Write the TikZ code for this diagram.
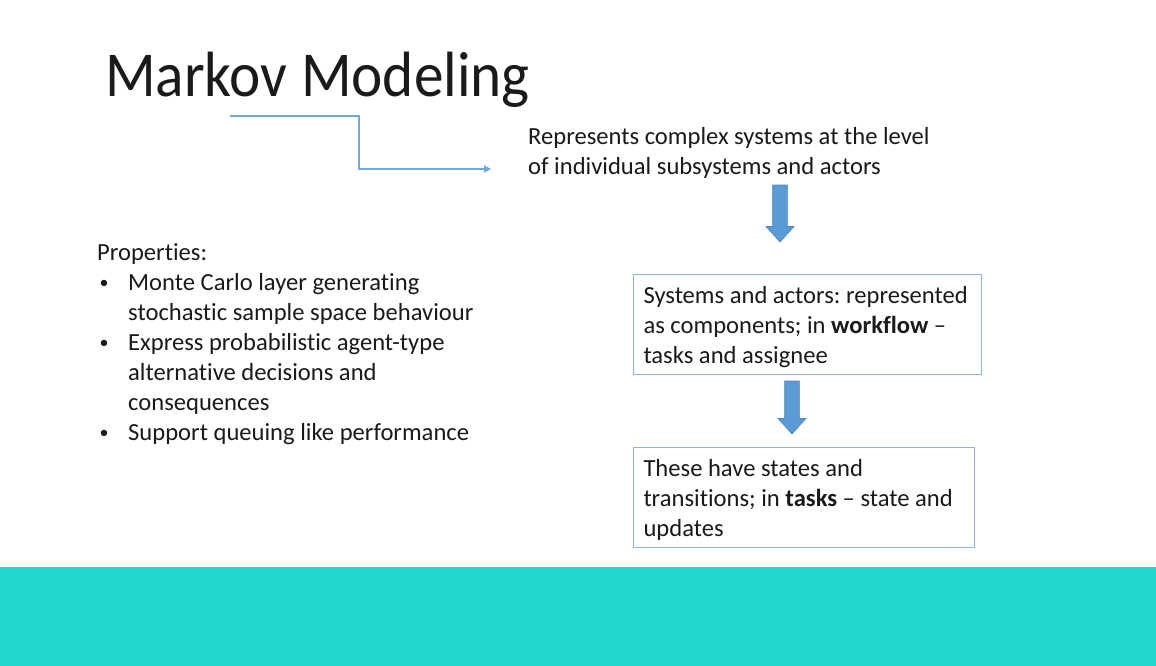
\documentclass[tikz,border=0pt]{standalone}
\usepackage{fontspec}
\setmainfont{Carlito}[RawFeature=-liga]
\usetikzlibrary{arrows.meta}

\definecolor{linkblue}{HTML}{6FA8DC}
\definecolor{arrowfill}{HTML}{5B9BD5}
\definecolor{arrowedge}{HTML}{4A86BE}
\definecolor{boxedge}{HTML}{8DB4E2}
\definecolor{band}{HTML}{20D7CC}
\definecolor{ink}{HTML}{1A1A1A}

\newcommand{\bulletmark}{\makebox[31pt][l]{\hspace{2.5pt}\raisebox{1.5pt}{\fontsize{18}{18}\selectfont\textbullet}}}
\newcommand{\listitem}{\par\hangindent=31pt\hangafter=1\noindent\bulletmark}

\tikzset{
  body/.style={font=\fontsize{24.6}{30}\selectfont\frenchspacing, text=ink, inner sep=0pt,
    execute at begin node={\spaceskip=0pt\xspaceskip=0pt\relax}},
  % the text box hangs from its first baseline
  infobox/.style={body, draw=boxedge, line width=1pt, anchor=north west,
    minimum width=348pt, text width=328pt, align=left, inner xsep=10pt,
    inner ysep=0pt, text height=29pt, text depth=71pt},
  elbow/.style={draw=linkblue, line width=1.3pt, -{Triangle[length=7pt,width=7pt]}},
  blockarrow/.style={fill=arrowfill, draw=arrowedge, line width=0.6pt, line join=miter}
}

% a downward block arrow: centre x, top y, bottom y
\newcommand{\downblock}[3]{%
  \filldraw[blockarrow]
    (#1-7.3,#2) -- (#1+7.3,#2) -- (#1+7.3,#3-15.5) -- (#1+14,#3-15.5)
    -- (#1,#3) -- (#1-14,#3-15.5) -- (#1-7.3,#3-15.5) -- cycle;}

\begin{document}
\begin{tikzpicture}[x=1pt,y=-1pt]
  \useasboundingbox (0,0) rectangle (1156,666);
  \fill[white] (0,0) rectangle (1156,666);
  \fill[band] (0,567) rectangle (1156,666);

  % title
  \node[anchor=base west, inner sep=0pt, font=\fontsize{64}{70}\selectfont, text=ink]
    (title) at (105,97) {\scalebox{0.926}[1]{Markov Modeling}};

  % summary statement (base anchor sits on the last line)
  \node[body, anchor=base west, align=left] (summary) at (528,174)
    {Represents complex systems at the level\\of individual subsystems and actors};

  % elbow connector pointing at the summary
  \coordinate (elbowstart) at (230,116);
  \coordinate (elbowend) at (491,169);
  \draw[elbow] (elbowstart) -- (359,116) -- (359,169) -- (elbowend);

  % property list
  \node[body, anchor=north west, text width=420pt, align=left] (props) at (97,243)
    {Properties:
     \listitem Monte Carlo layer generating\newline stochastic sample space behaviour
     \listitem Express probabilistic agent-type\newline alternative decisions and\newline consequences
     \listitem Support queuing like performance};

  % process boxes
  \node[infobox] (systems) at (633,274)
    {Systems and actors: represented\\as components; in \textbf{workflow} --\\tasks and assignee};
  \node[infobox, minimum width=341pt, text width=321pt] (states) at (633,447)
    {These have states and\\transitions; in \textbf{tasks} -- state and\\updates};

  % block arrows between the stages
  \downblock{780}{185}{242}
  \downblock{792}{381}{434}
\end{tikzpicture}
\end{document}
